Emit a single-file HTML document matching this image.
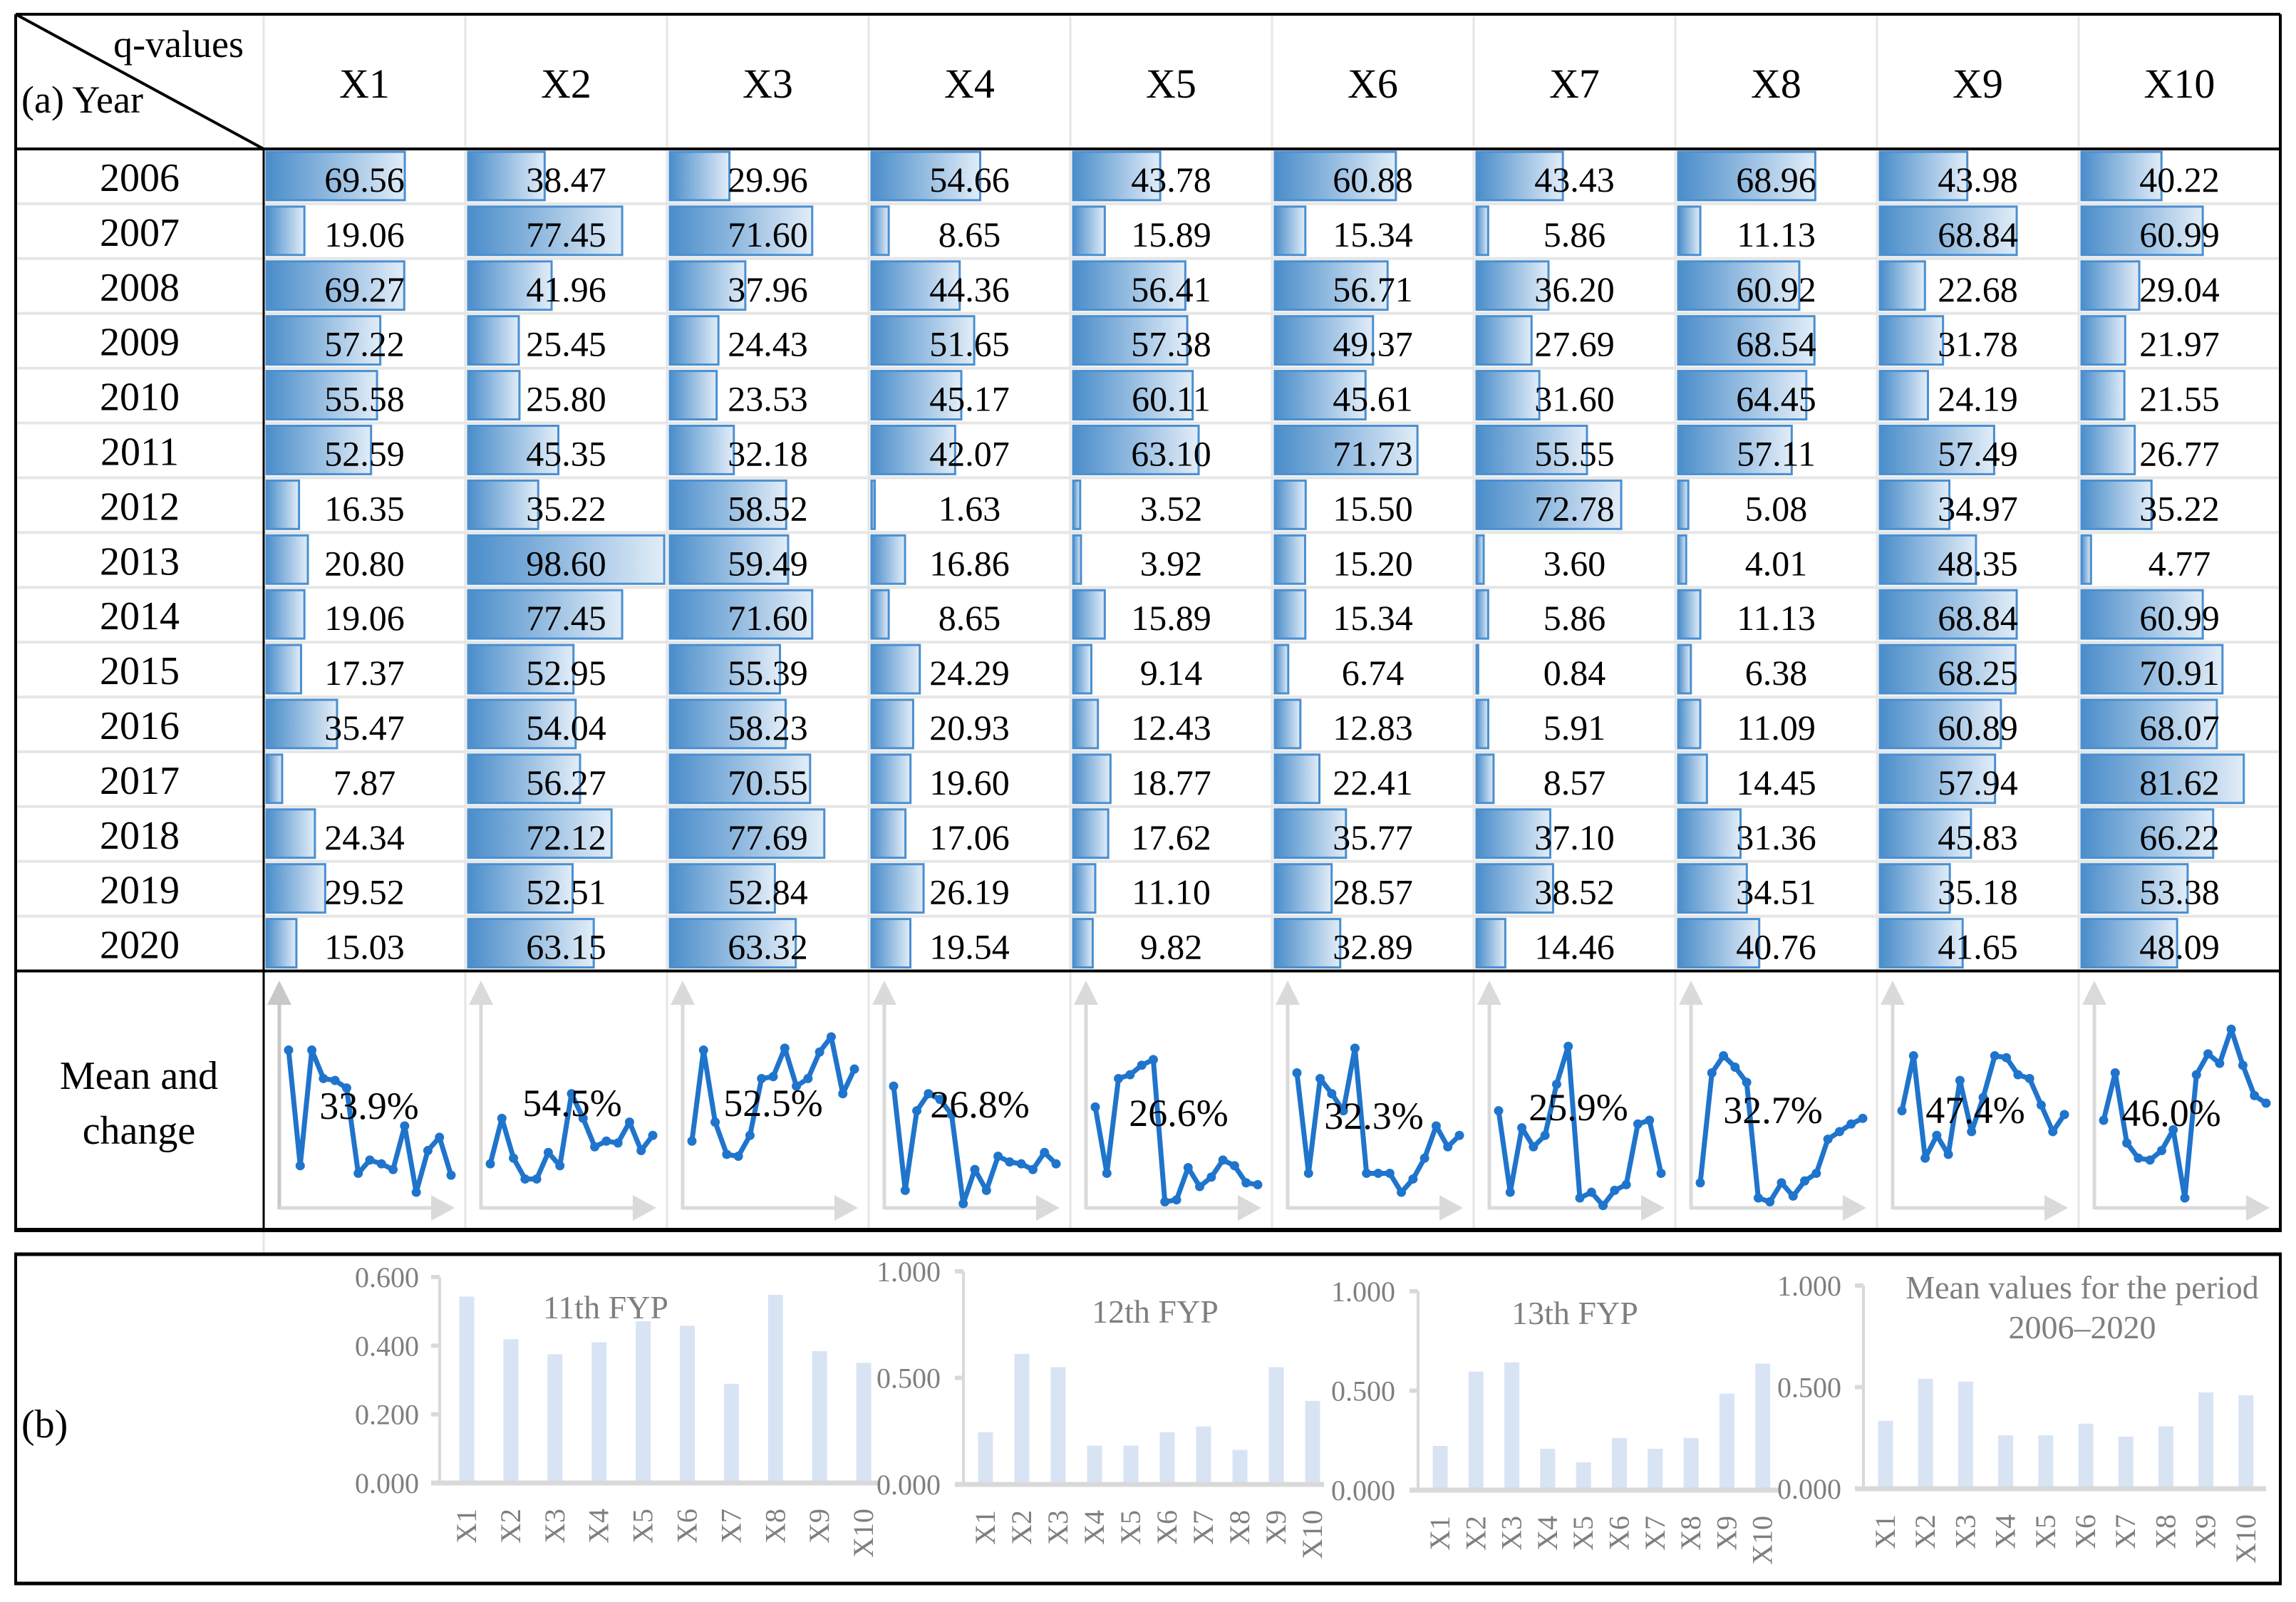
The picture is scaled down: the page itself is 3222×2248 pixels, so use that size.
<!DOCTYPE html>
<html><head><meta charset="utf-8"><style>
html,body{margin:0;padding:0;background:#fff}
svg{display:block}
text{font-family:"Liberation Serif",serif}
</style></head>
<body>
<svg id="root" xmlns="http://www.w3.org/2000/svg" width="3222" height="2248" viewBox="0 0 3222 2248">
<defs>
<linearGradient id="barGrad" x1="0" y1="0" x2="1" y2="0">
<stop offset="0" stop-color="#4a8dca"/><stop offset="1" stop-color="#e2edf8"/>
</linearGradient>
</defs>
<rect x="0" y="0" width="3222" height="2248" fill="#fff"/>
<g id="gridLayer"></g>
<g id="barLayer"></g>
<g id="textLayer"></g>
<g id="sparkLayer"></g>
<g id="chartLayer"></g>
<g id="borderLayer"></g>
</svg>
<script>
const years = ["2006","2007","2008","2009","2010","2011","2012","2013","2014","2015","2016","2017","2018","2019","2020"];
const factors = ["X1","X2","X3","X4","X5","X6","X7","X8","X9","X10"];
const qValues = [
[69.56,38.47,29.96,54.66,43.78,60.88,43.43,68.96,43.98,40.22],
[19.06,77.45,71.60,8.65,15.89,15.34,5.86,11.13,68.84,60.99],
[69.27,41.96,37.96,44.36,56.41,56.71,36.20,60.92,22.68,29.04],
[57.22,25.45,24.43,51.65,57.38,49.37,27.69,68.54,31.78,21.97],
[55.58,25.80,23.53,45.17,60.11,45.61,31.60,64.45,24.19,21.55],
[52.59,45.35,32.18,42.07,63.10,71.73,55.55,57.11,57.49,26.77],
[16.35,35.22,58.52,1.63,3.52,15.50,72.78,5.08,34.97,35.22],
[20.80,98.60,59.49,16.86,3.92,15.20,3.60,4.01,48.35,4.77],
[19.06,77.45,71.60,8.65,15.89,15.34,5.86,11.13,68.84,60.99],
[17.37,52.95,55.39,24.29,9.14,6.74,0.84,6.38,68.25,70.91],
[35.47,54.04,58.23,20.93,12.43,12.83,5.91,11.09,60.89,68.07],
[7.87,56.27,70.55,19.60,18.77,22.41,8.57,14.45,57.94,81.62],
[24.34,72.12,77.69,17.06,17.62,35.77,37.10,31.36,45.83,66.22],
[29.52,52.51,52.84,26.19,11.10,28.57,38.52,34.51,35.18,53.38],
[15.03,63.15,63.32,19.54,9.82,32.89,14.46,40.76,41.65,48.09]
];
const sparkX1 = [84,23,84,69,68,64,19,26,24,21,44,9,31,38,18];
const sparkX2 = [24,48,27,16,16,30,23,61,48,33,36,35,46,31,39];
const sparkX3 = [36,84,46,29,28,39,69,70,85,65,69,83,91,61,74];
const sparkX4 = [65,10,52,61,58,50,3,21,10,28,25,24,21,30,24];
const sparkX5 = [54,19,69,71,76,79,4,5,22,12,17,26,23,14,13];
const sparkX6 = [72,19,69,61,52,85,19,19,19,9,16,27,44,33,39];
const sparkX7 = [52,9,43,33,39,66,86,6,9,2,10,13,45,47,19];
const sparkX8 = [14,72,81,75,67,6,4,14,7,15,19,37,41,45,48];
const sparkX9 = [52,81,27,39,29,68,41,59,81,80,71,69,55,41,50];
const sparkX10 = [47,72,35,27,26,31,42,6,71,82,77,95,76,60,56];
const sparkSeries = [sparkX1,sparkX2,sparkX3,sparkX4,sparkX5,sparkX6,sparkX7,sparkX8,sparkX9,sparkX10];
const changePct = ["33.9%","54.5%","52.5%","26.8%","26.6%","32.3%","25.9%","32.7%","47.4%","46.0%"];
const fyp11 = [0.543,0.419,0.375,0.410,0.471,0.458,0.289,0.548,0.384,0.350];
const fyp12 = [0.245,0.613,0.550,0.182,0.182,0.245,0.272,0.162,0.550,0.392];
const fyp13 = [0.222,0.596,0.643,0.208,0.140,0.262,0.208,0.262,0.485,0.636];
const meanPeriod = [0.334,0.541,0.527,0.263,0.263,0.320,0.256,0.307,0.474,0.460];
const ticks11 = ["0.000","0.200","0.400","0.600"];
const ticks1 = ["0.000","0.500","1.000"];

const NS="http://www.w3.org/2000/svg";
function mk(tag, attrs, parent){const e=document.createElementNS(NS,tag);for(const k in attrs)e.setAttribute(k,attrs[k]);parent.appendChild(e);return e;}
const grid=document.getElementById('gridLayer'), barL=document.getElementById('barLayer'), txt=document.getElementById('textLayer'), spk=document.getElementById('sparkLayer'), chartL=document.getElementById('chartLayer'), brd=document.getElementById('borderLayer');

const L=22,R=3200,T=20,HB=209,rowH=76.9,C0=370,CW=283,DB=HB+15*rowH,MB=1726;
const unitW=2.79;

// grid lines
for(let r=1;r<15;r++){
  const y=HB+r*rowH;
  const ln=mk('line',{x1:L,x2:R,y1:y,y2:y,stroke:'#e6e6e6','stroke-width':4},grid);
  
  
}
for(let c=1;c<10;c++){
  const x=C0+c*CW;
  const ln=mk('line',{x1:x,x2:x,y1:T,y2:MB,stroke:'#e6e6e6','stroke-width':3},grid);
  
  
}
const hdrSep=mk('line',{x1:C0,x2:C0,y1:T,y2:HB,stroke:'#e6e6e6','stroke-width':3},grid);


const tail=mk('line',{x1:C0,x2:C0,y1:MB,y2:1760,stroke:'#e6e6e6','stroke-width':3},grid);



// header text
const qv=mk('text',{x:342,y:80,'font-size':54,'text-anchor':'end',fill:'#000'},txt);
qv.textContent='q-values';


const yl=mk('text',{x:30,y:158,'font-size':54,fill:'#000'},txt);
yl.textContent='(a) Year';


factors.forEach((f,c)=>{
  const t=mk('text',{x:C0+c*CW+CW/2,y:137,'font-size':58,'text-anchor':'middle',fill:'#000'},txt);
  t.textContent=f;
  
  
});

// data rows
years.forEach((yr,r)=>{
  const top=HB+r*rowH;
  const t=mk('text',{x:196,y:top+59,'font-size':56,'text-anchor':'middle',fill:'#000'},txt);
  t.textContent=yr;
  
  
  qValues[r].forEach((v,c)=>{
    const cx=C0+c*CW;
    const b=mk('rect',{x:cx+4,y:top+4,width:Math.max(v*unitW,2),height:rowH-9,fill:'url(#barGrad)',stroke:'#4a8fd0','stroke-width':3},barL);
    
    
    const vt=mk('text',{x:cx+CW/2,y:top+60,'font-size':50,'text-anchor':'middle',fill:'#000'},txt);
    vt.textContent=v.toFixed(2);
    
    
  });
});

// mean and change row
const m1=mk('text',{x:195,y:1528,'font-size':56,'text-anchor':'middle',fill:'#000'},txt);
m1.textContent='Mean and';


const m2=mk('text',{x:195,y:1605,'font-size':56,'text-anchor':'middle',fill:'#000'},txt);
m2.textContent='change';



const pctX=[518,803,1085,1375,1654,1928,2215,2488,2772,3047];
const pctY=[1570,1566,1566,1568,1580,1584,1572,1576,1576,1580];
function sx(cx,i){return cx+35+i*(228/14);}
function sy(level){return 1697-level*2.66;}
sparkSeries.forEach((ser,c)=>{
  const cx=C0+c*CW;
  const ax=cx+22;
  const ac = c===0?'#c8c8c8':'#dadada';
  const va=mk('line',{x1:ax,x2:ax,y1:1697,y2:1400,stroke:ac,'stroke-width':5},spk);
  
  
  const vh=mk('polygon',{points:`${ax},1376 ${ax-17},1410 ${ax+17},1410`,fill:ac},spk);
  
  
  const ha=mk('line',{x1:ax,x2:cx+240,y1:1695,y2:1695,stroke:'#dadada','stroke-width':5},spk);
  
  
  const hh=mk('polygon',{points:`${cx+268},1695 ${cx+235},1677 ${cx+235},1713`,fill:'#dadada'},spk);
  
  
  const pts=ser.map((v,i)=>sx(cx,i).toFixed(1)+','+sy(v).toFixed(1)).join(' ');
  const pl=mk('polyline',{points:pts,fill:'none',stroke:'#1f74cc','stroke-width':7,'stroke-linejoin':'round'},spk);
  
  
  ser.forEach((v,i)=>{
    const d=mk('circle',{cx:sx(cx,i),cy:sy(v),r:6.5,fill:'#1f74cc'},spk);
    
    
  });
  const pt=mk('text',{x:pctX[c],y:pctY[c],'font-size':54,'text-anchor':'middle',fill:'#000'},spk);
  pt.textContent=changePct[c];
  
  
});

// part b
const bl=mk('text',{x:30,y:2017,'font-size':56,fill:'#000'},chartL);
bl.textContent='(b)';



function barChart(cfg){
  const g=mk('g',{},chartL);
  
  
  const yS=v=>cfg.y0-(v/cfg.max)*(cfg.y0-cfg.yTop);
  const axl=mk('line',{x1:cfg.axisX,x2:cfg.axisX,y1:cfg.y0,y2:cfg.yTop,stroke:'#d9d9d9','stroke-width':4},g);
  
  
  cfg.ticks.forEach(tk=>{
    const v=parseFloat(tk), y=yS(v);
    const tl=mk('line',{x1:cfg.axisX-12,x2:cfg.axisX,y1:y,y2:y,stroke:'#d9d9d9','stroke-width':6},g);
    
    
    const tt=mk('text',{x:cfg.labelR,y:y+14,'font-size':40,'text-anchor':'end',fill:'#7f7f7f'},g);
    tt.textContent=tk;
    
    
  });
  cfg.values.forEach((v,i)=>{
    const bx=cfg.bar0+i*cfg.step;
    const r=mk('rect',{x:bx-10.5,y:yS(v),width:21,height:cfg.y0-yS(v),fill:'#d8e4f4'},g);
    
    
    const lt=mk('text',{x:0,y:0,'font-size':40,'text-anchor':'end',fill:'#7f7f7f',transform:`translate(${bx+13},${cfg.y0+36}) rotate(-90)`},g);
    lt.textContent=factors[i];
    
    
  });
  const base=mk('line',{x1:cfg.axisX-12,x2:cfg.end,y1:cfg.y0,y2:cfg.y0,stroke:'#d9d9d9','stroke-width':7},g);
  
  
  cfg.title.forEach((line,k)=>{
    const t=mk('text',{x:cfg.titleX,y:cfg.titleY+k*56,'font-size':46,'text-anchor':'middle',fill:'#7f7f7f'},g);
    t.textContent=line;
    
    
  });
}
barChart({name:'chart-11th-fyp',axisX:617,y0:2081,yTop:1792,max:0.6,ticks:ticks11,labelR:588,bar0:655,step:61.9,end:1235,values:fyp11,title:['11th FYP'],titleX:850,titleY:1850});
barChart({name:'chart-12th-fyp',axisX:1352,y0:2083,yTop:1784,max:1,ticks:ticks1,labelR:1320,bar0:1383,step:51,end:1858,values:fyp12,title:['12th FYP'],titleX:1621,titleY:1856});
barChart({name:'chart-13th-fyp',axisX:1990,y0:2091,yTop:1812,max:1,ticks:ticks1,labelR:1958,bar0:2021,step:50.3,end:2496,values:fyp13,title:['13th FYP'],titleX:2210,titleY:1858});
barChart({name:'chart-mean-period',axisX:2615,y0:2089,yTop:1804,max:1,ticks:ticks1,labelR:2584,bar0:2646,step:56.2,end:3180,values:meanPeriod,title:['Mean values for the period','2006\u20132020'],titleX:2922,titleY:1822});

// borders
function bline(n,x1,y1,x2,y2,w){const l=mk('line',{x1:x1,y1:y1,x2:x2,y2:y2,stroke:'#000','stroke-width':w},brd);}
bline('table-top-border',L,T,R,T,4);
bline('table-left-border',L,T,L,MB,4);
bline('table-right-border',R,T,R,MB,4);
bline('header-bottom-border',L,HB,R,HB,4);
bline('data-bottom-border',L,DB,R,DB,4);
bline('table-bottom-border',L-2,MB,R+2,MB,6);
bline('year-column-border',C0,HB,C0,MB,3);
bline('header-diagonal',L,T,C0,HB,4);
bline('part-b-top',L-2,1760,R+2,1760,5);
bline('part-b-bottom',L-2,2222,R+2,2222,5);
bline('part-b-left',L,1760,L,2222,4);
bline('part-b-right',R,1760,R,2222,4);
</script>
</body></html>
